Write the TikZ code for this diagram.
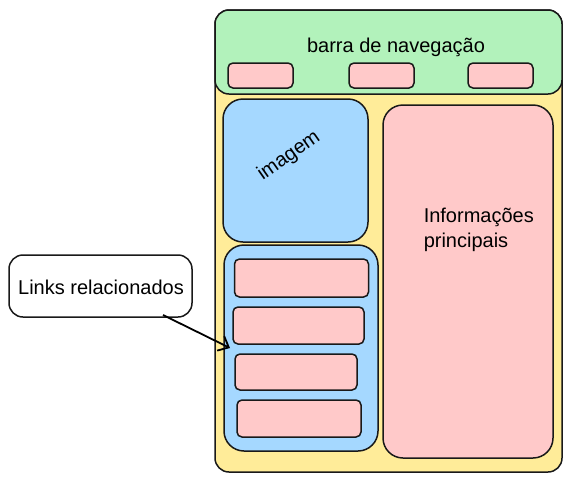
\documentclass[tikz,border=0pt]{standalone}
\usepackage{fontspec}
\usepackage{xcolor}
\usetikzlibrary{arrows.meta}
\setmainfont{Liberation Sans}
\definecolor{navgreen}{HTML}{B2F2BB}
\definecolor{pageyellow}{HTML}{FFEC99}
\definecolor{boxblue}{HTML}{A5D8FF}
\definecolor{boxpink}{HTML}{FFC9C9}

\begin{document}
\begin{tikzpicture}[x=1pt,y=-1pt,line width=1.5pt,
    every node/.style={shape=rectangle,draw=black!90,rounded corners=14pt,inner sep=0pt},
    txt/.style={draw=none,fill=none,font=\fontsize{20}{25}\selectfont,align=left},
    btn/.style={fill=boxpink,rounded corners=5pt}]
      \useasboundingbox (0,0) rectangle (573,483);
      % page
      \node[fill=pageyellow,minimum width=347pt,minimum height=462pt] (page) at (388.5,241) {};
      \node[fill=navgreen,minimum width=347pt,minimum height=84pt] (nav) at (388.5,52) {};
      \node[txt] (navlabel) at (396,47) {barra de navega\c{c}\~ao};
      \node[btn,minimum width=65pt,minimum height=25pt] (nav1) at (260.5,75.5) {};
      \node[btn,minimum width=65pt,minimum height=25pt] (nav2) at (381.5,75.5) {};
      \node[btn,minimum width=65pt,minimum height=25pt] (nav3) at (500.5,75.5) {};
      % imagem
      \node[fill=boxblue,rounded corners=20pt,minimum width=145pt,minimum height=143pt] (img) at (295.5,170.5) {};
      \node[txt,rotate=35] (imglabel) at (289,156) {imagem};
      % informacoes
      \node[fill=boxpink,rounded corners=20pt,minimum width=170pt,minimum height=353pt] (info) at (468,281.5) {};
      \node[txt,anchor=west] (infolabel) at (423,230) {Informa\c{c}\~oes\\principais};
      % links
      \node[fill=boxblue,rounded corners=20pt,minimum width=154pt,minimum height=206pt] (links) at (301,348) {};
      \node[btn,minimum width=134pt,minimum height=38pt] (link1) at (301.5,278) {};
      \node[btn,minimum width=131pt,minimum height=37pt] (link2) at (298.5,325.5) {};
      \node[btn,minimum width=122pt,minimum height=36pt] (link3) at (296,372) {};
      \node[btn,minimum width=124pt,minimum height=37pt] (link4) at (299,418.5) {};
      % callout
      \node[fill=white,minimum width=183pt,minimum height=62pt] (callout) at (100.5,286) {};
      \node[txt] (calloutlabel) at (101,287) {Links relacionados};
      \coordinate (tip) at (230,348);
      \draw[-{Straight Barb[length=9pt,width=16pt]},line width=1.8pt] (163,315) -- (tip);
\end{tikzpicture}
\end{document}
